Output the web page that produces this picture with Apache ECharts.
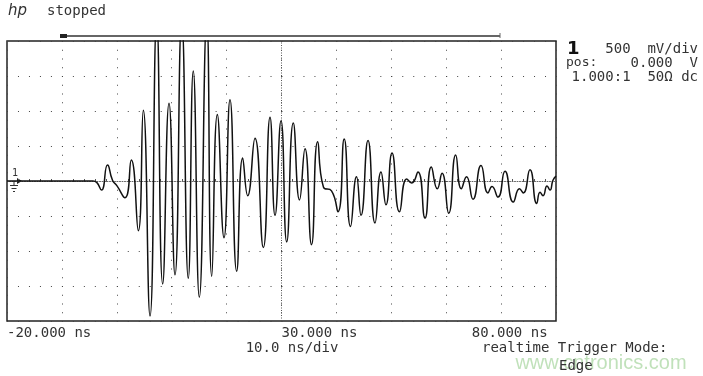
<!DOCTYPE html>
<html>
<head>
<meta charset="utf-8">
<script src="https://cdn.jsdelivr.net/npm/echarts@6/dist/echarts.min.js"></script>
<style>
  html, body { margin: 0; padding: 0; background: #fff; }
  #chart { width: 703px; height: 376px; }
</style>
</head>
<body>
<div id="chart"></div>
<script>
// trace: time in ns, voltage in V (500 mV/div, clipped above 2 V)
const timeNs = [
  -20, -4.34, -3.66, -2.79, -1.69, -0.78, 0.04, 1.49, 2.64, 3.92,
  4.83, 6.05, 7.27, 8.36, 9.51, 10.6, 11.82, 13.02, 13.93, 15.03,
  16.38, 17.29, 18.31, 19.53, 20.62, 21.84, 22.93, 23.84, 25.17, 26.69,
  27.91, 28.82, 29.91, 30.95, 32.15, 33.28, 34.28, 35.47, 36.59, 37.65,
  39.11, 40.29, 41.42, 42.57, 43.66, 44.48, 45.76, 47.03, 48.12, 49.03,
  50.13, 51.49, 52.81, 53.72, 54.86, 56.14, 57.29, 58.38, 59.24, 60.46,
  61.73, 62.75, 63.7, 64.88, 66.34, 67.61, 68.34, 69.44, 70.71, 72.22,
  73.35, 74.05, 75.26, 76.49, 77.09, 77.64, 78.37, 78.91, 79.45, 80
];
const voltsV = [
  0, 0, -0.02, -0.13, 0.23, 0.01, -0.07, -0.24, 0.3, -0.71,
  1.01, -1.93, 2.3, -1.47, 1.11, -1.34, 2.3, -1.39, 1.57, -1.66,
  2.3, -1.36, 0.95, -0.81, 1.16, -1.29, 0.33, -0.21, 0.61, -0.95,
  0.91, -0.49, 0.86, -0.87, 0.83, -0.27, 0.46, -0.91, 0.56, -0.09,
  -0.14, -0.44, 0.6, -0.65, 0.06, -0.49, 0.58, -0.6, 0.13, -0.34,
  0.4, -0.44, 0.03, -0.03, 0.13, -0.53, 0.2, -0.11, 0.11, -0.46,
  0.37, -0.11, 0.06, -0.26, 0.22, -0.17, -0.08, -0.23, 0.14, -0.3,
  -0.11, -0.17, 0.16, -0.32, -0.16, -0.21, -0.07, -0.13, 0.01, 0.07
];
// trailing space on the last one keeps it off the right border, as on the scope
const tickLabels = { '-20': '-20.000 ns', '30': '30.000 ns', '80': '80.000 ns ' };
const centerTime = 30;

const mono = '"DejaVu Sans Mono", monospace';
const ink = '#333';

const chart = echarts.init(document.getElementById('chart'));

const txt = (x, y, text, opts = {}) => ({
  type: 'text',
  x: x,
  y: y,
  silent: true,
  style: {
    text: text,
    font: opts.font || '14px ' + mono,
    fill: opts.fill || ink,
    align: opts.align || 'left',
    textAlign: opts.align || 'left',
    verticalAlign: 'middle',
    textVerticalAlign: 'middle',
  },
});

const option = {
  backgroundColor: '#fff',
  animation: false,
  grid: {
    left: 7,
    top: 41,
    width: 549,
    height: 280,
    show: true,
    borderColor: '#222',
    borderWidth: 1.5,
    backgroundColor: 'transparent',
  },
  xAxis: [
    {
      type: 'value',
      min: -20,
      max: 80,
      interval: 10,
      axisLine: { show: false, onZero: false },
      axisTick: { show: false },
      axisLabel: {
        margin: 5,
        color: ink,
        fontFamily: 'DejaVu Sans Mono',
        fontSize: 14,
        align: 'left',
        alignMinLabel: 'left',
        alignMaxLabel: 'right',
        formatter: (v) => tickLabels[String(v)] || '',
      },
      splitLine: {
        show: true,
        lineStyle: { color: '#444', width: 1, type: [1, 7.75] },
      },
    },
    {
      type: 'value',
      min: -20,
      max: 80,
      interval: 10,
      position: 'top',
      axisLine: {
        show: true,
        onZero: true,
        lineStyle: { color: '#666', width: 1, type: [1, 1.5] },
      },
      axisTick: { show: false },
      minorTick: { show: true, splitNumber: 5, length: 2, lineStyle: { color: '#555' } },
      axisLabel: { show: false },
      splitLine: { show: false },
    },
  ],
  yAxis: {
    type: 'value',
    min: -2,
    max: 2,
    interval: 0.5,
    axisLine: { show: false },
    axisTick: { show: false },
    axisLabel: { show: false },
    splitLine: {
      show: true,
      lineStyle: { color: '#444', width: 1, type: [1, 9.98] },
    },
  },
  series: [
    {
      type: 'line',
      data: timeNs.map((t, i) => [t, voltsV[i]]),
      showSymbol: false,
      smooth: 0.55,
      clip: true,
      lineStyle: { color: '#111', width: 1.5 },
      markLine: {
        silent: true,
        symbol: ['none', 'none'],
        label: { show: false },
        lineStyle: { color: '#555', width: 1, type: [1, 1.5] },
        data: [{ xAxis: centerTime }],
      },
    },
  ],
  graphic: [
    txt(8, 11, 'hp', { font: 'italic 15px "DejaVu Sans"' }),
    txt(47, 11, 'stopped'),
    // time reference bar
    { type: 'line', silent: true, shape: { x1: 62, y1: 36, x2: 500, y2: 36 }, style: { stroke: '#666', lineWidth: 2 } },
    { type: 'rect', silent: true, shape: { x: 60, y: 34, width: 7, height: 4 }, style: { fill: '#222' } },
    { type: 'line', silent: true, shape: { x1: 500, y1: 33, x2: 500, y2: 38 }, style: { stroke: '#666', lineWidth: 1 } },
    // channel marker and ground symbol
    txt(12, 173, '1', { font: '10px ' + mono }),
    { type: 'polygon', silent: true, shape: { points: [[17, 178], [22, 181], [17, 184]] }, style: { fill: '#222' } },
    { type: 'line', silent: true, shape: { x1: 14, y1: 181, x2: 14, y2: 185 }, style: { stroke: '#333', lineWidth: 1 } },
    { type: 'line', silent: true, shape: { x1: 10, y1: 185.5, x2: 18, y2: 185.5 }, style: { stroke: '#333', lineWidth: 1 } },
    { type: 'line', silent: true, shape: { x1: 11.5, y1: 188.5, x2: 16.5, y2: 188.5 }, style: { stroke: '#333', lineWidth: 1 } },
    { type: 'line', silent: true, shape: { x1: 13, y1: 191.5, x2: 15, y2: 191.5 }, style: { stroke: '#333', lineWidth: 1 } },
    // channel settings panel
    txt(567, 49, '1', { font: 'bold 18px "DejaVu Sans"', fill: '#111' }),
    txt(698, 49, '500  mV/div', { align: 'right' }),
    txt(566, 63, 'pos:', { font: '13px ' + mono }),
    txt(698, 63, '0.000  V', { align: 'right' }),
    txt(698, 77, '1.000:1  50Ω dc', { align: 'right' }),
    // bottom info
    txt(292, 348, '10.0 ns/div', { align: 'center' }),
    txt(482, 348, 'realtime Trigger Mode:'),
    txt(601, 363, 'www.cntronics.com', {
      font: '20px "Liberation Sans"',
      fill: 'rgba(150, 205, 140, 0.6)',
      align: 'center',
    }),
    txt(559, 366, 'Edge'),
  ],
};

chart.setOption(option);
</script>
</body>
</html>
